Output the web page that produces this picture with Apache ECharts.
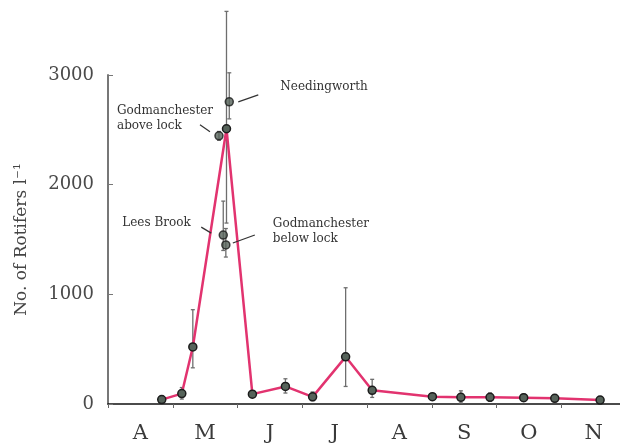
<!DOCTYPE html>
<html>
<head>
<meta charset="utf-8">
<script src="https://cdn.jsdelivr.net/npm/echarts@6/dist/echarts.min.js"></script>
<style>html,body{margin:0;padding:0;background:#fff;}#c{width:620px;height:445px;}</style>
</head>
<body>
<div id="c"></div>
<script>
// Month band labels (Apr..Nov)
const months = ['A', 'M', 'J', 'J', 'A', 'S', 'O', 'N'];
// Sampling dates, in months after 1 April
const sampleMonth = [0.83, 1.14, 1.31, 1.83, 2.23, 2.74, 3.16, 3.67, 4.08, 5.01, 5.45, 5.90, 6.42, 6.90, 7.60];
// Mean number of rotifers per litre
const meanCount = [40, 95, 520, 2510, 90, 160, 65, 430, 125, 67, 61, 61, 58, 52, 36];
const errLow = [15, 45, 330, 1650, 60, 100, 30, 160, 60, 45, 10, 25, 25, 20, 30];
const errHigh = [65, 150, 860, 3580, 120, 230, 110, 1060, 225, 90, 120, 100, 90, 85, 45];
// Individual sites at the May peak
const siteNames = ['Needingworth', 'Godmanchester\nabove lock', 'Lees Brook', 'Godmanchester\nbelow lock'];
const siteMonth = [1.873, 1.714, 1.78, 1.82];
const siteCount = [2755, 2445, 1540, 1450];
const siteLow = [2600, 2405, 1400, 1340];
const siteHigh = [3020, 2485, 1850, 1600];
// y tick values
const yTicks = [0, 1000, 2000, 3000];

const FONT = 'DejaVu Serif';
// annotation layout (pixel offsets from the marker): leader start, leader end, text anchor
const annLayout = [
  {l: [9, 0, 29, -7], t: [51, -15]},
  {l: [-19, -11, -9, -4], t: [-102, -17]},
  {l: [-22, -8, -12, -2], t: [-101, -12]},
  {l: [7, -2, 29, -10], t: [47, -14]}
];

const meanData = sampleMonth.map((m, i) => [m, meanCount[i]]);
const errData = sampleMonth.map((m, i) => [m, errLow[i], errHigh[i]])
  .concat(siteMonth.map((m, i) => [m, siteLow[i], siteHigh[i]]));
const siteData = siteMonth.map((m, i) => [m, siteCount[i], i]);

const markerStyle = {color: '#56635a', borderColor: '#1c1c1c', borderWidth: 1.5};

const chart = echarts.init(document.getElementById('c'), null, {renderer: 'canvas'});
chart.setOption({
  backgroundColor: '#fff',
  animation: false,
  grid: {left: 108, right: -6, top: 75, bottom: 41, containLabel: false, outerBoundsMode: 'none'},
  xAxis: [
    {
      type: 'value', min: 0, max: 8, interval: 1,
      axisLine: {show: true, lineStyle: {color: '#111', width: 1.5}},
      axisTick: {show: true, length: 4, lineStyle: {color: '#666', width: 1}},
      axisLabel: {show: false},
      splitLine: {show: false}
    },
    {
      type: 'category', data: months, boundaryGap: true, position: 'bottom',
      axisLine: {show: false}, axisTick: {show: false},
      axisLabel: {fontFamily: FONT, fontSize: 21, color: '#3a3a3a', margin: 19}
    }
  ],
  yAxis: {
    type: 'value', min: yTicks[0], max: yTicks[yTicks.length - 1], interval: 1000,
    name: 'No. of Rotifers l\u207B\u00B9', nameLocation: 'middle', nameGap: 78,
    nameTextStyle: {fontFamily: FONT, fontSize: 17, color: '#444'},
    axisLine: {show: true, lineStyle: {color: '#777', width: 2}},
    axisTick: {show: true, inside: true, length: 5, lineStyle: {color: '#777'}},
    axisLabel: {fontFamily: FONT, fontSize: 18, color: '#4a4a4a', margin: 14,
                formatter: function (v) { return String(v); }},
    splitLine: {show: false}
  },
  series: [
    {
      type: 'custom', name: 'err', xAxisIndex: 0, clip: false, z: 2,
      data: errData,
      renderItem: function (params, api) {
        const top = api.coord([api.value(0), api.value(2)]);
        const bot = api.coord([api.value(0), api.value(1)]);
        const st = {stroke: '#6e6e6e', lineWidth: 1.3};
        return {type: 'group', children: [
          {type: 'line', shape: {x1: top[0], y1: top[1], x2: bot[0], y2: bot[1]}, style: st},
          {type: 'line', shape: {x1: top[0] - 2, y1: top[1], x2: top[0] + 2, y2: top[1]}, style: st},
          {type: 'line', shape: {x1: bot[0] - 2, y1: bot[1], x2: bot[0] + 2, y2: bot[1]}, style: st}
        ]};
      }
    },
    {
      type: 'line', name: 'mean', xAxisIndex: 0, data: meanData, clip: false, z: 3,
      symbol: 'circle', symbolSize: 8,
      lineStyle: {color: '#e2336f', width: 2.5},
      itemStyle: markerStyle
    },
    {
      type: 'scatter', name: 'sites', xAxisIndex: 0, data: siteData, clip: false, z: 4,
      symbol: 'circle', symbolSize: 8, itemStyle: markerStyle
    },
    {
      type: 'custom', name: 'annotations', xAxisIndex: 0, clip: false, z: 5,
      data: siteData,
      renderItem: function (params, api) {
        const p = api.coord([api.value(0), api.value(1)]);
        const i = api.value(2);
        const L = annLayout[i];
        return {type: 'group', children: [
          {type: 'line', shape: {x1: p[0] + L.l[0], y1: p[1] + L.l[1], x2: p[0] + L.l[2], y2: p[1] + L.l[3]},
           style: {stroke: '#333', lineWidth: 1.2}},
          {type: 'text', x: p[0] + L.t[0], y: p[1] + L.t[1],
           style: {text: siteNames[i], fontFamily: FONT, fontSize: 12, fill: '#333',
                   lineHeight: 15, align: 'left', verticalAlign: 'middle'}}
        ]};
      }
    }
  ]
});
</script>
</body>
</html>
